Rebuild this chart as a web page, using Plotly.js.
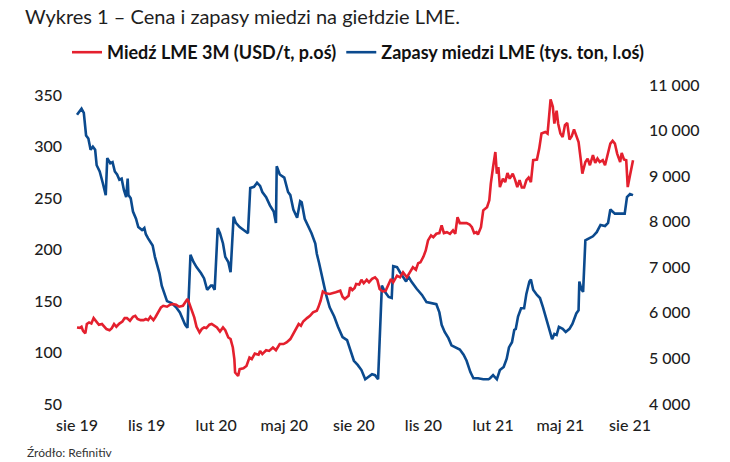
<!DOCTYPE html>
<html>
<head>
<meta charset="utf-8">
<script src="https://cdn.plot.ly/plotly-3.0.1.min.js"></script>
<style>html,body{margin:0;padding:0;background:#fff;}#chart{width:730px;height:462px;}</style>
</head>
<body>
<div id="chart"></div>
<script>
// Days since 2019-08-01
const seriesStart = [2019, 7, 1];

const copperDays = [0,4,6,8,11,13,16,19,22,26,29,33,36,39,43,46,49,52,56,60,63,66,70,74,77,80,84,88,91,94,97,101,104,107,111,114,119,123,127,131,135,140,143,146,148,152,155,158,162,165,168,171,175,178,181,185,189,193,196,200,203,206,208,209,211,213,215,220,224,228,231,235,240,242,245,250,254,259,263,268,273,277,282,286,290,293,296,299,304,308,312,317,319,322,325,329,334,338,342,348,351,354,359,361,364,367,369,373,376,379,383,386,390,394,397,400,404,408,412,415,418,423,427,431,436,439,444,448,451,454,458,461,464,468,471,475,479,482,485,489,493,497,500,503,506,511,515,519,522,525,528,530,534,537,542,545,547,550,553,555,557,559,563,566,569,572,576,579,582,585,588,591,594,597,600,603,608,611,614,619,622,624,626,629,631,634,636,639,642,645,648,651,654,657,660,663,666,668,672,675,678,682,685,688,691,695,698,701,705,708,711,714,718,720,723,726,728,731,735];
const copperPrice = [5680,5670,5695,5605,5550,5755,5790,5765,5885,5810,5740,5755,5695,5645,5620,5665,5755,5695,5765,5810,5885,5885,5825,5915,5935,5865,5840,5840,5865,5840,5915,5840,5915,6010,6120,6155,6135,6180,6195,6180,6135,6155,6230,6305,6230,6045,5900,5695,5570,5645,5680,5665,5740,5755,5715,5680,5590,5680,5620,5460,5425,5240,4985,4690,4655,4615,4765,4785,4835,5020,4985,5105,5080,5165,5095,5180,5165,5240,5180,5315,5315,5350,5425,5535,5645,5755,5715,5810,5885,5935,6010,6045,6120,6265,6470,6430,6415,6430,6450,6485,6355,6305,6375,6560,6500,6545,6635,6620,6725,6650,6725,6670,6745,6780,6725,6525,6470,6485,6635,6745,6670,6815,6780,6890,6780,6855,7000,6945,7090,7110,7235,7370,7590,7700,7660,7735,7750,7920,7750,7770,7735,7810,7735,8100,7970,7970,7970,7940,7880,7750,7770,7720,7880,8250,8320,8470,8835,9200,9530,9055,9200,8760,8945,8870,9070,8945,9055,8925,8760,8910,8750,8750,8910,8970,8870,9350,9365,9605,9935,9970,9935,10300,10685,10520,10155,10435,10155,9935,9860,10120,10170,9805,9875,10025,9900,9750,9350,9055,9310,9385,9240,9460,9290,9385,9310,9350,9240,9460,9715,9775,9715,9495,9310,9510,9365,9350,8760,9020,9350];

const stockDays = [0,6,9,12,15,18,21,24,26,30,34,38,40,44,47,50,53,56,59,62,65,67,68,71,74,78,81,86,89,91,94,100,103,106,109,112,115,119,125,131,136,140,143,146,150,154,158,164,168,172,177,179,182,186,189,193,196,200,203,207,210,215,222,226,229,234,238,242,245,250,255,260,263,264,268,274,279,282,286,289,291,295,297,301,306,310,315,317,320,325,329,334,340,345,351,357,361,366,371,376,381,385,390,394,398,403,407,412,416,418,423,427,431,435,438,442,449,456,462,469,475,479,482,486,491,495,501,506,511,515,520,524,530,537,544,546,550,555,559,564,568,571,575,578,580,583,587,591,594,598,600,603,608,612,616,619,622,625,628,631,634,637,642,646,651,655,660,663,664,667,669,672,677,682,687,692,698,702,705,711,718,724,727,731,735];
const stockKt = [331,337,333,311,308,297,300,297,282,276,265,253,289,284,285,276,273,268,269,258,251,269,253,250,237,230,222,219,221,215,211,204,193,185,177,165,159,150,148,144,139,131,127,124,195,188,183,177,172,161,165,165,161,221,216,206,193,188,178,232,226,222,218,216,260,261,265,262,256,251,243,237,226,281,273,270,256,253,239,235,231,247,246,230,222,216,206,196,187,170,157,144,135,125,115,112,104,92,88,83,74,76,79,78,74,165,159,154,153,184,183,178,174,169,174,169,162,156,149,148,147,139,127,120,114,107,105,103,98,92,81,75,75,74,74,75,78,74,83,86,94,105,110,122,123,135,143,143,157,169,171,161,156,153,144,136,130,120,113,118,117,125,123,120,123,128,138,141,169,161,159,209,211,213,217,224,223,226,239,235,235,235,251,254,253];

const xTickDates = ['2019-08-01','2019-11-01','2020-02-01','2020-05-01','2020-08-01','2020-11-01','2021-02-01','2021-05-01','2021-08-01'];
const xTickLabels = ['sie 19','lis 19','lut 20','maj 20','sie 20','lis 20','lut 21','maj 21','sie 21'];
const leftTicks = [50,100,150,200,250,300,350];
const rightTicks = [4000,5000,6000,7000,8000,9000,10000,11000];

const copperName = 'Miedź LME 3M (USD/t, p.oś)';
const stockName = 'Zapasy miedzi LME (tys. ton, l.oś)';
const titleText = 'Wykres 1 – Cena i zapasy miedzi na giełdzie LME.';
const sourceText = 'Źródło: Refinitiv';

function toDate(d) {
  const t = Date.UTC(seriesStart[0], seriesStart[1], seriesStart[2]) + d * 86400000;
  return new Date(t).toISOString().slice(0, 10);
}

const FONT = 'Lato, "Open Sans", sans-serif';
const TXT = '#1e1e1e';

const traces = [
  {
    x: copperDays.map(toDate), y: copperPrice, name: copperName,
    type: 'scatter', mode: 'lines', yaxis: 'y2',
    line: {color: '#e4202e', width: 2.6}
  },
  {
    x: stockDays.map(toDate), y: stockKt, name: stockName,
    type: 'scatter', mode: 'lines', yaxis: 'y',
    line: {color: '#0b4a8e', width: 2.6}
  }
];

const layout = {
  width: 730, height: 462,
  margin: {l: 70, r: 90, t: 85, b: 58},
  paper_bgcolor: '#fff', plot_bgcolor: '#fff',
  separators: ', ',
  font: {family: FONT, color: TXT, size: 16},
  title: {
    text: titleText, x: 25 / 730, xanchor: 'left', xref: 'container',
    y: 1 - 17 / 462, yanchor: 'middle', yref: 'container',
    font: {family: FONT, size: 20, color: TXT}
  },
  showlegend: true,
  legend: {
    orientation: 'h', x: -3 / 570, xanchor: 'left', xref: 'paper',
    y: (403.5 - 52) / 319, yanchor: 'middle', yref: 'paper',
    font: {family: FONT, size: 18, color: '#111', weight: 'bold'},
    bgcolor: 'rgba(0,0,0,0)', borderwidth: 0, itemclick: false
  },
  xaxis: {
    type: 'date',
    range: ['2019-07-22 18:00', '2021-08-14 05:00'],
    tickmode: 'array', tickvals: xTickDates, ticktext: xTickLabels,
    showgrid: false, zeroline: false, showline: false, ticks: '',
    ticklabelstandoff: 10,
    tickfont: {family: FONT, size: 16, color: TXT, weight: 500}
  },
  yaxis: {
    range: [50, 360], tickmode: 'array', tickvals: leftTicks,
    showgrid: false, zeroline: false, showline: false, ticks: '',
    ticklabelstandoff: 7,
    tickfont: {family: FONT, size: 16, color: TXT, weight: 500}
  },
  yaxis2: {
    overlaying: 'y', side: 'right',
    range: [4000, 11000], tickmode: 'array', tickvals: rightTicks,
    tickformat: ',d',
    showgrid: false, zeroline: false, showline: false, ticks: '',
    ticklabelstandoff: 8,
    tickfont: {family: FONT, size: 16, color: TXT, weight: 500}
  },
  annotations: [{
    text: sourceText, xref: 'paper', yref: 'paper',
    x: -45 / 570, xanchor: 'left', y: -48.5 / 319, yanchor: 'middle',
    showarrow: false, font: {family: FONT, size: 12, color: '#333'}
  }]
};

Plotly.newPlot('chart', traces, layout, {displayModeBar: false, staticPlot: true});
</script>
</body>
</html>
